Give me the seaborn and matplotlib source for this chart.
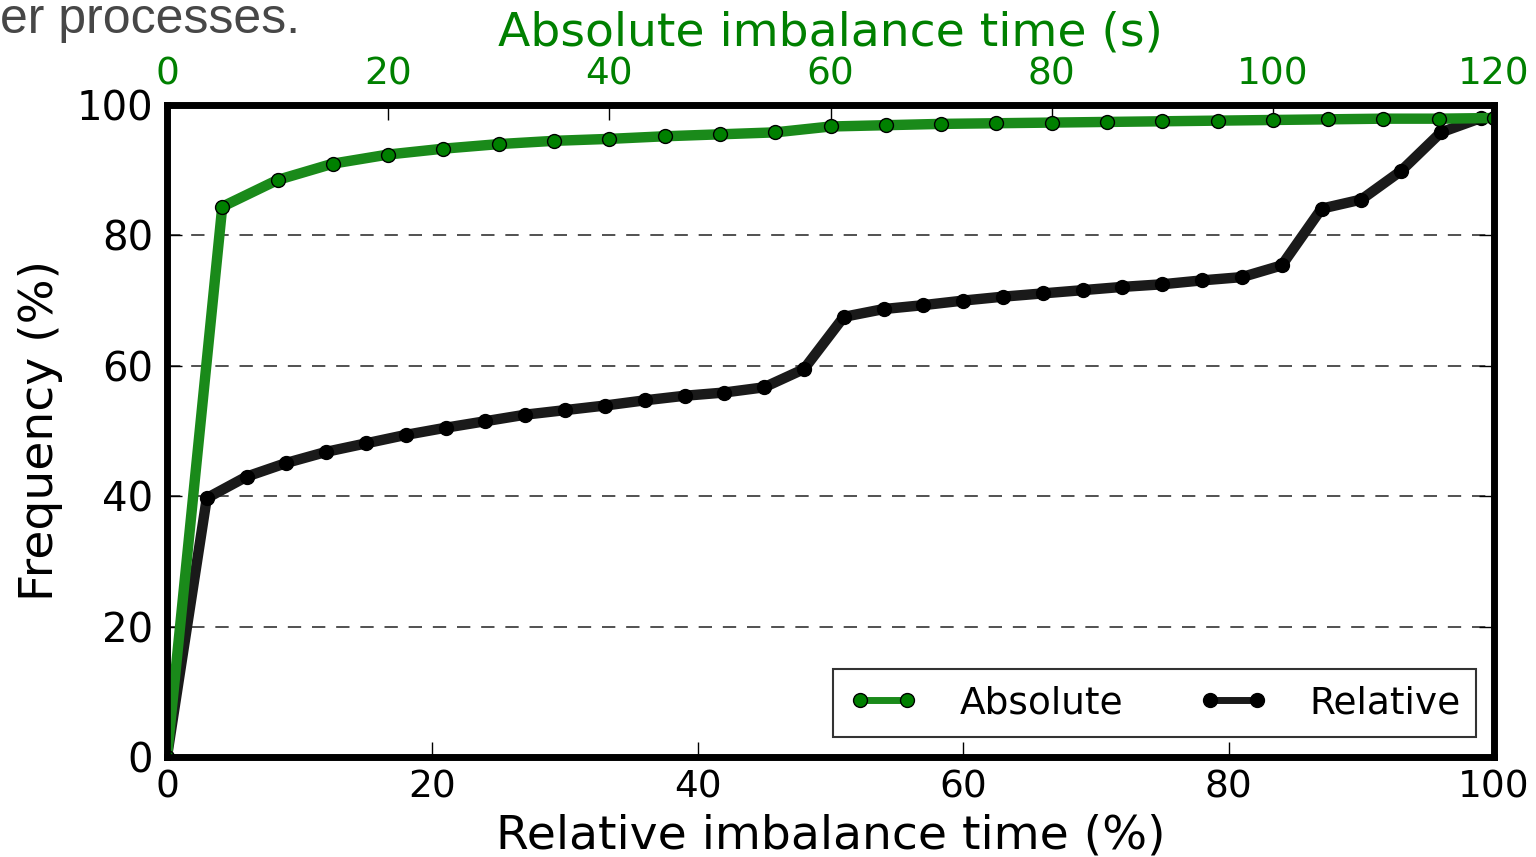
import matplotlib
matplotlib.use("Agg")
import matplotlib.pyplot as plt
import seaborn as sns
import pandas as pd
import numpy as np

# ---- data ----
abs_time = [0, 5, 10, 15, 20, 25, 30, 35, 40, 45, 50, 55, 60, 65, 70, 75, 80,
            85, 90, 95, 100, 105, 110, 115, 120]
abs_freq = [0, 84.4, 88.5, 91.0, 92.4, 93.3, 94.0, 94.5, 94.8, 95.2, 95.5, 95.8,
            96.7, 96.9, 97.1, 97.2, 97.3, 97.4, 97.5, 97.6, 97.7, 97.8, 97.9,
            97.9, 98.0]
rel_time = [0, 3, 6, 9, 12, 15, 18, 21, 24, 27, 30, 33, 36, 39, 42, 45, 48, 51,
            54, 57, 60, 63, 66, 69, 72, 75, 78, 81, 84, 87, 90, 93, 96, 99]
rel_freq = [0, 39.7, 43.0, 45.1, 46.8, 48.1, 49.4, 50.5, 51.5, 52.5, 53.2, 53.9,
            54.7, 55.4, 55.9, 56.7, 59.5, 67.5, 68.7, 69.3, 70.0, 70.6, 71.1,
            71.6, 72.1, 72.5, 73.1, 73.6, 75.4, 84.1, 85.5, 89.9, 95.8, 98.0]
y_ticks = [0, 20, 40, 60, 80, 100]
rel_ticks = [0, 20, 40, 60, 80, 100]
abs_ticks = [0, 20, 40, 60, 80, 100, 120]

sns.set_style("white")
plt.rcParams['font.family'] = ['DejaVu Sans']
plt.rcParams['text.color'] = 'black'
plt.rcParams['axes.labelcolor'] = 'black'
plt.rcParams['xtick.color'] = 'black'
plt.rcParams['ytick.color'] = 'black'

GREEN_LINE = "#1a8a1a"
GREEN_MK = "#008000"
BLACK_LINE = "#1a1a1a"

fig = plt.figure(figsize=(15.36, 8.57), dpi=100)
ax = fig.add_axes([0.1087, 0.1167, 0.864, 0.7608])
ax2 = ax.twiny()

df_rel = pd.DataFrame({"x": rel_time, "y": rel_freq})
df_abs = pd.DataFrame({"x": abs_time, "y": abs_freq})

sns.lineplot(data=df_rel, x="x", y="y", ax=ax, color=BLACK_LINE, linewidth=7.5,
             marker="o", markersize=10, markerfacecolor="black",
             markeredgecolor="black", markeredgewidth=1, label="Relative",
             legend=False)
sns.lineplot(data=df_abs, x="x", y="y", ax=ax2, color=GREEN_LINE, linewidth=7.5,
             marker="o", markersize=10, markerfacecolor=GREEN_MK,
             markeredgecolor="black", markeredgewidth=1, label="Absolute",
             legend=False)

ax.set_xlim(0, 100)
ax.set_ylim(0, 100)
ax2.set_xlim(0, 120)
ax.set_xticks(rel_ticks)
ax.set_yticks(y_ticks)
ax2.set_xticks(abs_ticks)

for y in y_ticks[1:-1]:
    ax.axhline(y, color="#333333", linestyle=(0, (8, 6.5)), linewidth=1.2, zorder=0)

ax.set_xlabel("Relative imbalance time (%)", fontsize=34, labelpad=6)
ax.set_ylabel("Frequency (%)", fontsize=34, labelpad=10)
ax2.set_xlabel("Absolute imbalance time (s)", fontsize=34, color="green", labelpad=8)

ax.tick_params(axis="x", which="both", direction="in", length=11, width=1,
               labelsize=27, top=False, bottom=True, pad=9, colors="black")
ax.tick_params(axis="y", which="both", direction="in", length=11, width=1,
               labelsize=29, left=True, right=True, pad=10, colors="black")
ax2.tick_params(axis="x", which="both", direction="in", length=11, width=1,
                labelsize=27, top=True, bottom=False, pad=9, labelcolor="green",
                color="black")

for a in (ax, ax2):
    for s in a.spines.values():
        s.set_linewidth(4.8)
        s.set_color("black")

h1, l1 = ax2.get_legend_handles_labels()
h2, l2 = ax.get_legend_handles_labels()
leg = ax2.legend(h1 + h2, l1 + l2, loc="lower right", ncol=2, fontsize=27,
                 frameon=True, fancybox=False, edgecolor="black",
                 numpoints=2, handlelength=1.85, columnspacing=2.0,
                 borderpad=0.42, handletextpad=1.1, borderaxespad=0,
                 bbox_to_anchor=(0.9864, 0.0307))
leg.get_frame().set_linewidth(1.5)
for lh in leg.get_lines():
    lh.set_linewidth(5)

fig.text(0.0, 1 - 33 / 857, "er processes.", fontsize=36, color="#474747",
         family="Liberation Sans", ha="left", va="baseline")

fig.savefig("out.png", dpi=100)
